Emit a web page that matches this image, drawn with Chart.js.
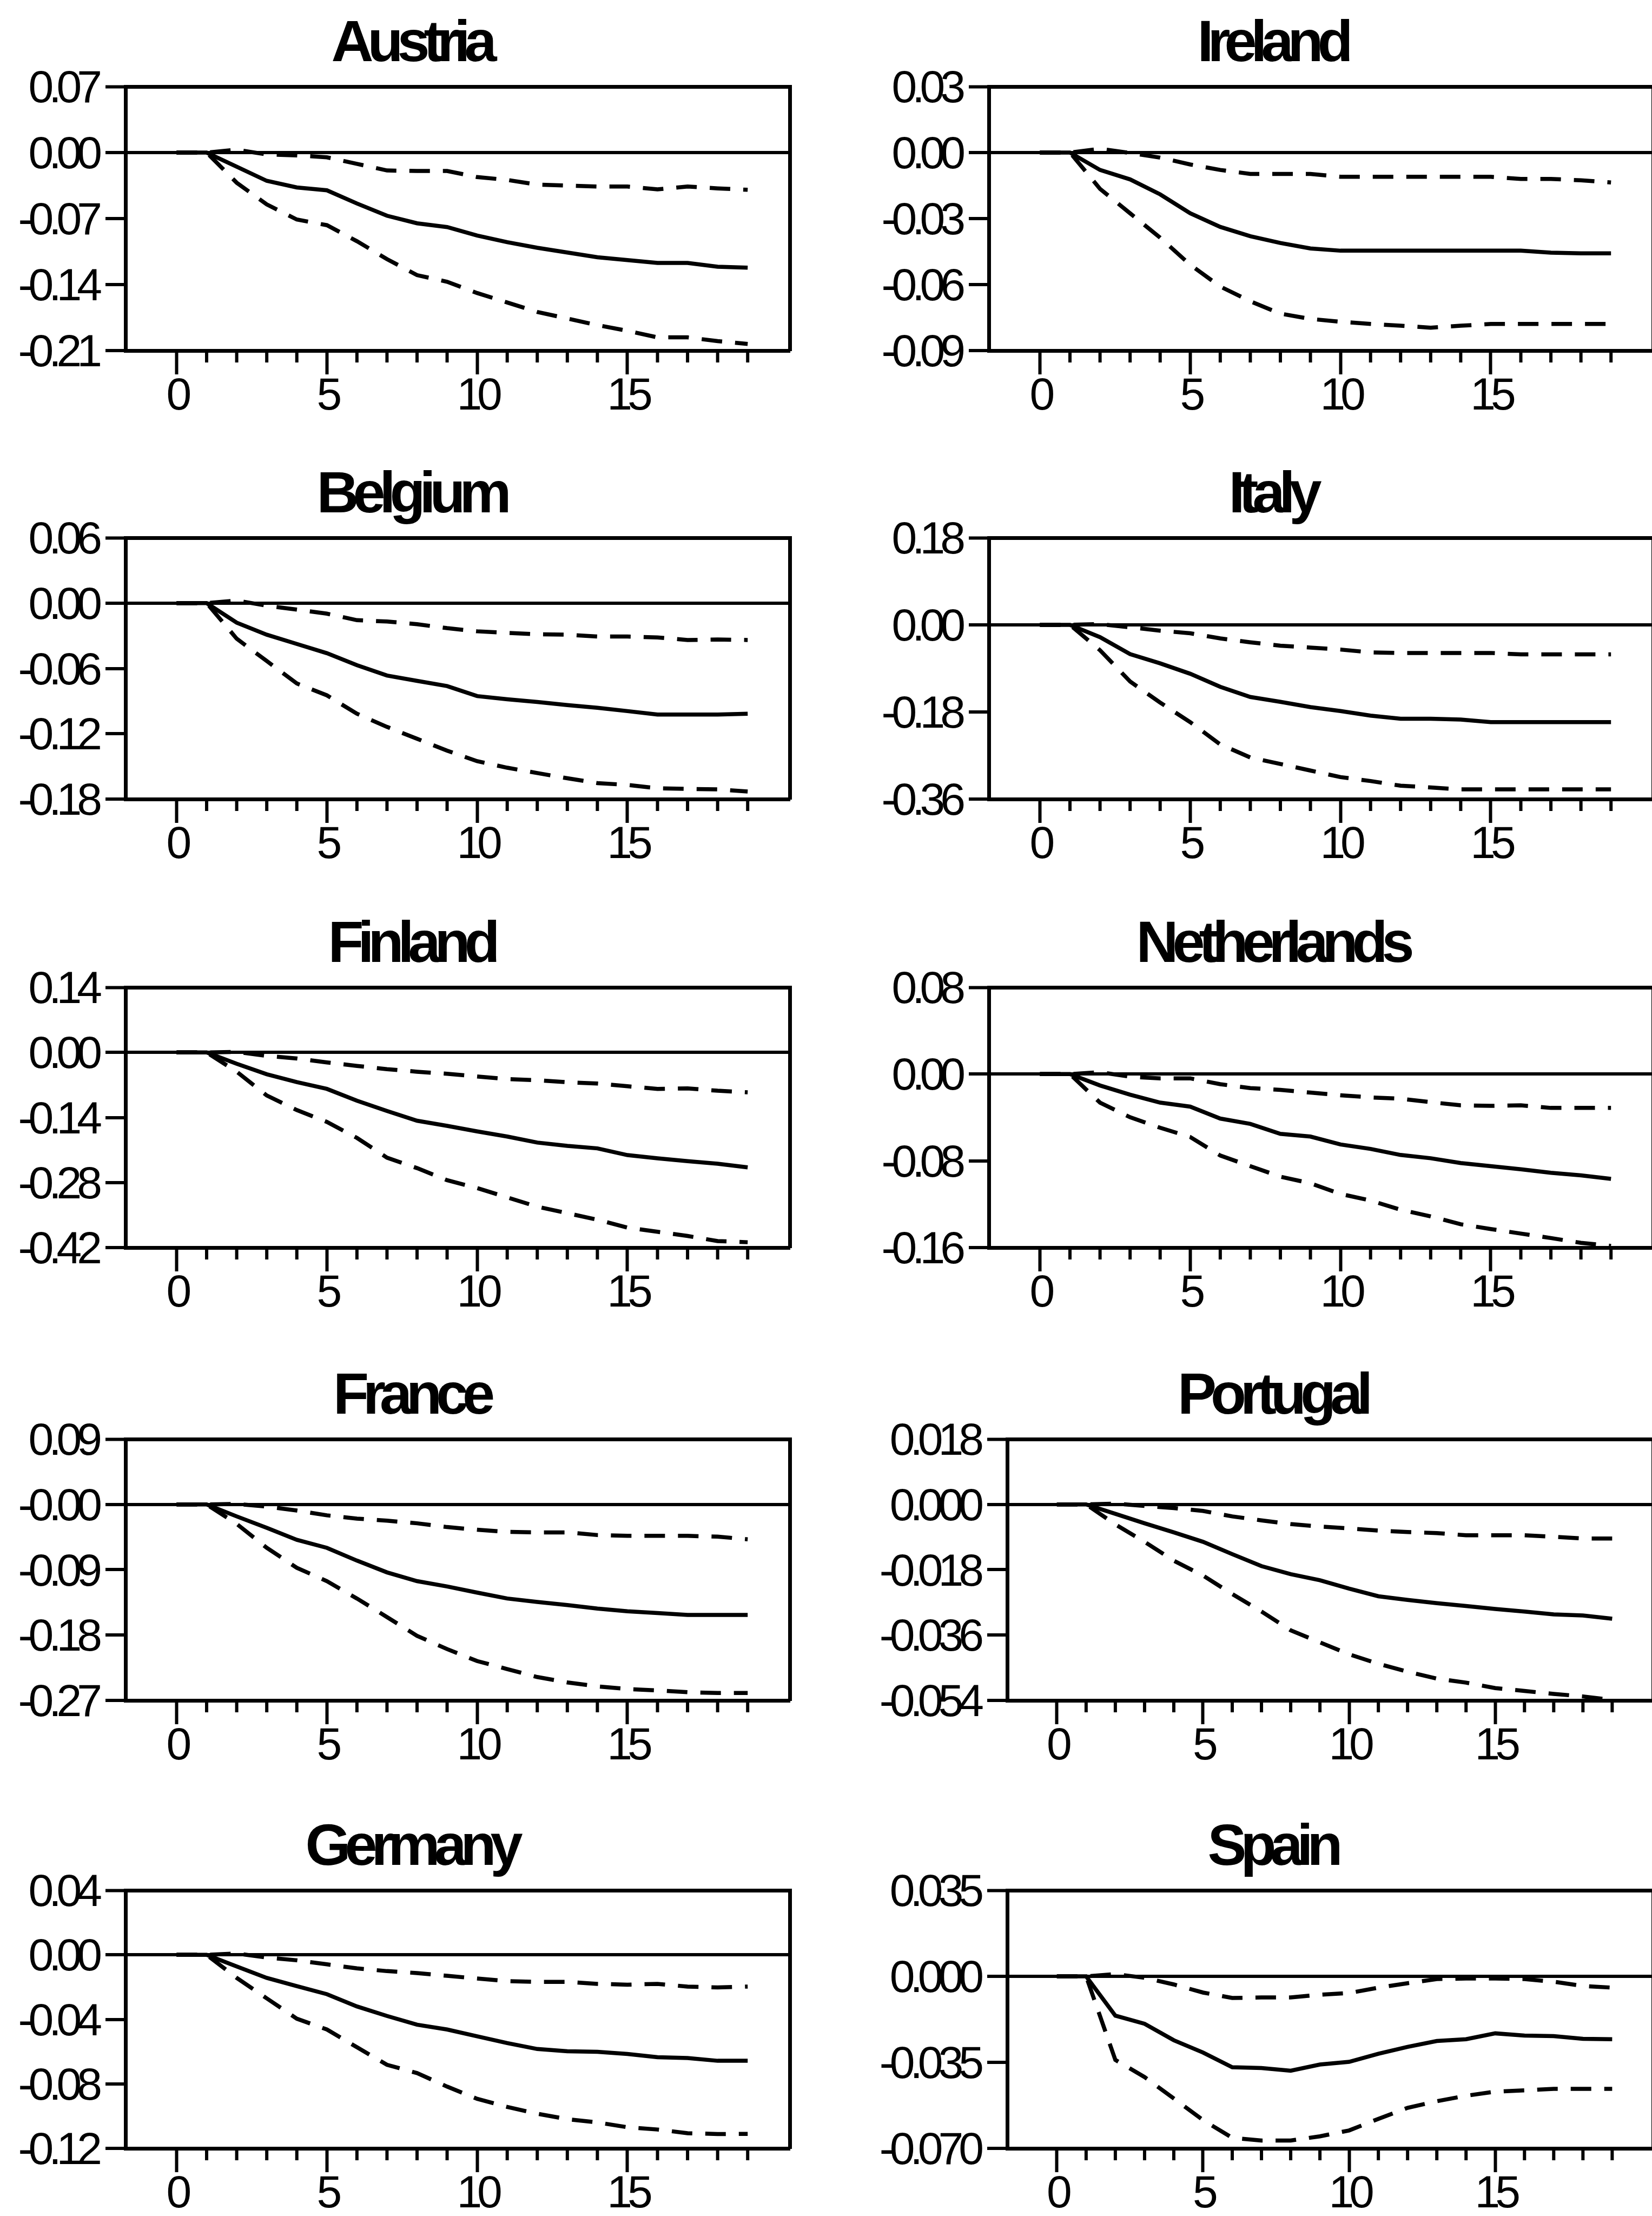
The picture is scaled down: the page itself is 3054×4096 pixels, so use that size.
<!DOCTYPE html>
<html>
<head>
<meta charset="utf-8">
<script src="https://cdn.jsdelivr.net/npm/chart.js@4.4.1/dist/chart.umd.min.js"></script>
<style>
html, body { margin:0; padding:0; background:#fff; overflow:hidden; width:3054px; height:4096px; }
canvas { position:absolute; }
</style>
</head>
<body>
<script>
// ---------------- DATA ----------------
const periods = [0,1,2,3,4,5,6,7,8,9,10,11,12,13,14,15,16,17,18,19];
const majorTicks = [0,5,10,15];
const xTickLabels = ['0','5','10','15'];

const austriaTicks = [0.07, 0, -0.07, -0.14, -0.21];
const austriaTickLabels = ['0.07','0.00','-0.07','-0.14','-0.21'];
const austriaIRF   = [0,0,-0.015,-0.030,-0.037,-0.040,-0.054,-0.067,-0.075,-0.079,-0.088,-0.095,-0.101,-0.106,-0.111,-0.114,-0.117,-0.117,-0.121,-0.122];
const austriaLower = [0,0,-0.032,-0.055,-0.071,-0.077,-0.094,-0.113,-0.130,-0.137,-0.149,-0.159,-0.169,-0.176,-0.183,-0.189,-0.196,-0.196,-0.200,-0.203];
const austriaUpper = [0,0,0.003,-0.002,-0.003,-0.005,-0.012,-0.019,-0.0195,-0.0195,-0.026,-0.029,-0.034,-0.035,-0.036,-0.036,-0.039,-0.036,-0.038,-0.0395];

const irelandTicks = [0.03, 0, -0.03, -0.06, -0.09];
const irelandTickLabels = ['0.03','0.00','-0.03','-0.06','-0.09'];
const irelandIRF   = [0,0,-0.0079,-0.0122,-0.019,-0.0276,-0.0338,-0.038,-0.0411,-0.0436,-0.0446,-0.0446,-0.0446,-0.0446,-0.0446,-0.0446,-0.0446,-0.0455,-0.0458,-0.0458];
const irelandLower = [0,0,-0.0165,-0.0276,-0.0387,-0.051,-0.0609,-0.0676,-0.0732,-0.0756,-0.0769,-0.0779,-0.0787,-0.0796,-0.0787,-0.0779,-0.0779,-0.0779,-0.0779,-0.0779];
const irelandUpper = [0,0,0.0017,-0.0002,-0.0023,-0.0054,-0.0079,-0.0097,-0.0097,-0.0097,-0.011,-0.011,-0.011,-0.011,-0.011,-0.011,-0.012,-0.012,-0.0126,-0.0136];

const belgiumTicks = [0.06, 0, -0.06, -0.12, -0.18];
const belgiumTickLabels = ['0.06','0.00','-0.06','-0.12','-0.18'];
const belgiumIRF   = [0,0,-0.018,-0.029,-0.0375,-0.046,-0.057,-0.0665,-0.0714,-0.0762,-0.0854,-0.0883,-0.0908,-0.0937,-0.0961,-0.0992,-0.1024,-0.1024,-0.1024,-0.1016];
const belgiumLower = [0,0,-0.0327,-0.0532,-0.0738,-0.0847,-0.1016,-0.1137,-0.1246,-0.1355,-0.1452,-0.1512,-0.1561,-0.1609,-0.1653,-0.167,-0.1701,-0.1706,-0.1711,-0.173];
const belgiumUpper = [0,0,0.0024,-0.0024,-0.006,-0.0097,-0.0157,-0.0169,-0.0194,-0.023,-0.0259,-0.0273,-0.0286,-0.029,-0.0307,-0.0307,-0.0315,-0.0339,-0.0334,-0.0339];

const italyTicks = [0.18, 0, -0.18, -0.36];
const italyTickLabels = ['0.18','0.00','-0.18','-0.36'];
const italyIRF   = [0,0,-0.0254,-0.0605,-0.0795,-0.101,-0.128,-0.149,-0.159,-0.170,-0.178,-0.1875,-0.194,-0.194,-0.1957,-0.201,-0.201,-0.201,-0.201,-0.201];
const italyLower = [0,0,-0.0524,-0.117,-0.1605,-0.201,-0.247,-0.274,-0.2875,-0.301,-0.3146,-0.3227,-0.3324,-0.336,-0.34,-0.34,-0.34,-0.34,-0.34,-0.34];
const italyUpper = [0,0,0.0016,-0.005,-0.012,-0.0173,-0.028,-0.036,-0.043,-0.047,-0.051,-0.0568,-0.058,-0.058,-0.058,-0.058,-0.061,-0.061,-0.061,-0.061];

const finlandTicks = [0.14, 0, -0.14, -0.28, -0.42];
const finlandTickLabels = ['0.14','0.00','-0.14','-0.28','-0.42'];
const finlandIRF   = [0,0,-0.0245,-0.047,-0.064,-0.0785,-0.104,-0.126,-0.147,-0.158,-0.170,-0.181,-0.194,-0.201,-0.2065,-0.221,-0.228,-0.234,-0.2395,-0.2475];
const finlandLower = [0,0,-0.0415,-0.0927,-0.124,-0.1496,-0.184,-0.2265,-0.249,-0.275,-0.292,-0.312,-0.332,-0.346,-0.360,-0.377,-0.386,-0.395,-0.406,-0.4085];
const finlandUpper = [0,0,0.001,-0.0074,-0.013,-0.0216,-0.029,-0.036,-0.0415,-0.046,-0.0518,-0.0575,-0.0597,-0.0643,-0.067,-0.0728,-0.0785,-0.0774,-0.0825,-0.086];

const netherlandsTicks = [0.08, 0, -0.08, -0.16];
const netherlandsTickLabels = ['0.08','0.00','-0.08','-0.16'];
const netherlandsIRF   = [0,0,-0.0105,-0.019,-0.0263,-0.030,-0.041,-0.0459,-0.0551,-0.0576,-0.0649,-0.069,-0.0746,-0.0776,-0.082,-0.0849,-0.0878,-0.091,-0.0934,-0.0966];
const netherlandsLower = [0,0,-0.0263,-0.0398,-0.0495,-0.058,-0.0751,-0.0849,-0.0946,-0.1007,-0.1105,-0.1166,-0.1251,-0.1312,-0.1385,-0.1429,-0.1471,-0.1512,-0.1556,-0.1585];
const netherlandsUpper = [0,0,0.0017,-0.0024,-0.0039,-0.0039,-0.0093,-0.0129,-0.0146,-0.0171,-0.0195,-0.0215,-0.0227,-0.0259,-0.0288,-0.0293,-0.0288,-0.0312,-0.0312,-0.0312];

const franceTicks = [0.09, 0, -0.09, -0.18, -0.27];
const franceTickLabels = ['0.09','-0.00','-0.09','-0.18','-0.27'];
const franceIRF   = [0,0,-0.0165,-0.0323,-0.0488,-0.0598,-0.0774,-0.0936,-0.1057,-0.113,-0.1215,-0.1296,-0.1343,-0.1387,-0.1435,-0.1472,-0.1497,-0.1523,-0.1523,-0.1523];
const franceLower = [0,0,-0.0268,-0.0598,-0.0873,-0.1057,-0.1296,-0.1552,-0.181,-0.1993,-0.2158,-0.2268,-0.2378,-0.2452,-0.2507,-0.2543,-0.2562,-0.2587,-0.2598,-0.2598];
const franceUpper = [0,0,0.0007,-0.003,-0.0084,-0.015,-0.0195,-0.0224,-0.026,-0.0312,-0.0349,-0.0378,-0.0385,-0.0385,-0.0422,-0.0433,-0.0433,-0.0433,-0.0444,-0.048];

const portugalTicks = [0.018, 0, -0.018, -0.036, -0.054];
const portugalTickLabels = ['0.018','0.000','-0.018','-0.036','-0.054'];
const portugalIRF   = [0,0,-0.0026,-0.0052,-0.0077,-0.0103,-0.0137,-0.017,-0.0192,-0.0209,-0.0232,-0.0253,-0.0263,-0.0272,-0.028,-0.0288,-0.0295,-0.0303,-0.0306,-0.0315];
const portugalLower = [0,0,-0.0055,-0.0103,-0.0155,-0.0196,-0.0247,-0.0295,-0.0347,-0.038,-0.0413,-0.0439,-0.0461,-0.048,-0.0491,-0.0506,-0.0514,-0.0522,-0.0529,-0.0539];
const portugalUpper = [0,0,0.0002,-0.0004,-0.001,-0.0018,-0.0033,-0.0044,-0.0054,-0.0061,-0.0066,-0.0072,-0.0076,-0.0079,-0.0085,-0.0085,-0.0085,-0.0089,-0.0094,-0.0094];

const germanyTicks = [0.04, 0, -0.04, -0.08, -0.12];
const germanyTickLabels = ['0.04','0.00','-0.04','-0.08','-0.12'];
const germanyIRF   = [0,0,-0.0072,-0.0143,-0.0194,-0.0244,-0.032,-0.0379,-0.0433,-0.0463,-0.0505,-0.0547,-0.0584,-0.0598,-0.0601,-0.0615,-0.0635,-0.064,-0.0657,-0.0657];
const germanyLower = [0,0,-0.0143,-0.027,-0.0396,-0.0463,-0.0573,-0.0682,-0.0733,-0.0817,-0.0893,-0.0943,-0.0985,-0.1019,-0.1039,-0.1069,-0.1083,-0.1106,-0.1111,-0.111];
const germanyUpper = [0,0,0.0008,-0.0017,-0.0034,-0.0059,-0.0084,-0.0101,-0.0113,-0.013,-0.0147,-0.0163,-0.0168,-0.0168,-0.018,-0.0185,-0.018,-0.0197,-0.0202,-0.0197];

const spainTicks = [0.035, 0, -0.035, -0.070];
const spainTickLabels = ['0.035','0.000','-0.035','-0.070'];
const spainIRF   = [0,0,-0.016,-0.0193,-0.026,-0.031,-0.037,-0.0373,-0.0384,-0.0359,-0.0348,-0.0315,-0.0287,-0.0263,-0.0256,-0.0232,-0.0241,-0.0243,-0.0254,-0.0256];
const spainLower = [0,0,-0.034,-0.041,-0.0497,-0.0585,-0.0657,-0.0668,-0.0668,-0.0651,-0.0627,-0.058,-0.0535,-0.0508,-0.0486,-0.0469,-0.0464,-0.0458,-0.0458,-0.0458];
const spainUpper = [0,0,0.0009,-0.0006,-0.0033,-0.0066,-0.0088,-0.0086,-0.0086,-0.0075,-0.0068,-0.0046,-0.0028,-0.0011,-0.0009,-0.0009,-0.0011,-0.0022,-0.0039,-0.0046];

// ---------------- LAYOUT ----------------
function hasFont(name){
  const c = document.createElement('canvas').getContext('2d');
  const s = 'Austria 0.07 Netherlands';
  c.font = '100px monospace'; const a = c.measureText(s).width;
  c.font = '100px "' + name + '", monospace'; const b = c.measureText(s).width;
  return Math.abs(a - b) > 0.5;
}
const narrowOK = hasFont('Liberation Sans Narrow');
const FAMILY = narrowOK ? '"Liberation Sans Narrow", "Liberation Sans", Arial, sans-serif'
                        : '"Liberation Sans", Arial, sans-serif';
const LETTER_SPACING = narrowOK ? '0px' : '-9px';
const TITLE_SPACING = narrowOK ? '-2px' : '-11px';

const rowTop    = [160, 994, 1825, 2660, 3494];
const rowBottom = [648, 1477, 2306, 3143, 3971];
const colCanvasLeft  = [0, 1600];
const colCanvasWidth = [1520, 1504];   // title centred in canvas: 760 / 2352
const colPlotRight   = [1460, 3056];
const TITLE_SIZE = 108;
const TITLE_BOX = 142;   // chart area top offset inside canvas
const X_AXIS_H = 120;
const LINE_W = 7.5;
const AXIS_W = 7;
const TICK_W = 6;

const panels = [
  {name:'Austria',     col:0, row:0, plotLeft:232,  ticks:austriaTicks,     labels:austriaTickLabels,     irf:austriaIRF,     lo:austriaLower,     hi:austriaUpper},
  {name:'Belgium',     col:0, row:1, plotLeft:232,  ticks:belgiumTicks,     labels:belgiumTickLabels,     irf:belgiumIRF,     lo:belgiumLower,     hi:belgiumUpper},
  {name:'Finland',     col:0, row:2, plotLeft:232,  ticks:finlandTicks,     labels:finlandTickLabels,     irf:finlandIRF,     lo:finlandLower,     hi:finlandUpper},
  {name:'France',      col:0, row:3, plotLeft:232,  ticks:franceTicks,      labels:franceTickLabels,      irf:franceIRF,      lo:franceLower,      hi:franceUpper},
  {name:'Germany',     col:0, row:4, plotLeft:232,  ticks:germanyTicks,     labels:germanyTickLabels,     irf:germanyIRF,     lo:germanyLower,     hi:germanyUpper},
  {name:'Ireland',     col:1, row:0, plotLeft:1828, ticks:irelandTicks,     labels:irelandTickLabels,     irf:irelandIRF,     lo:irelandLower,     hi:irelandUpper},
  {name:'Italy',       col:1, row:1, plotLeft:1828, ticks:italyTicks,       labels:italyTickLabels,       irf:italyIRF,       lo:italyLower,       hi:italyUpper},
  {name:'Netherlands', col:1, row:2, plotLeft:1828, ticks:netherlandsTicks, labels:netherlandsTickLabels, irf:netherlandsIRF, lo:netherlandsLower, hi:netherlandsUpper},
  {name:'Portugal',    col:1, row:3, plotLeft:1862, ticks:portugalTicks,    labels:portugalTickLabels,    irf:portugalIRF,    lo:portugalLower,    hi:portugalUpper},
  {name:'Spain',       col:1, row:4, plotLeft:1862, ticks:spainTicks,       labels:spainTickLabels,       irf:spainIRF,       lo:spainLower,       hi:spainUpper}
];

const minorTickPlugin = {
  id: 'eviewsMinorTicks',
  beforeDraw(chart) {
    chart.ctx.letterSpacing = LETTER_SPACING;
  },
  afterDraw(chart) {
    const {ctx, chartArea, scales} = chart;
    const x = scales.x;
    ctx.save();
    ctx.strokeStyle = '#000';
    ctx.lineWidth = TICK_W;
    periods.forEach(p => {
      if (majorTicks.indexOf(p) === -1) {
        const px = x.getPixelForValue(p);
        ctx.beginPath();
        ctx.moveTo(px, chartArea.bottom);
        ctx.lineTo(px, chartArea.bottom + 22);
        ctx.stroke();
      }
    });
    ctx.restore();
  }
};

panels.forEach(p => {
  const T = rowTop[p.row], B = rowBottom[p.row];
  const cl = colCanvasLeft[p.col];
  const cw = colCanvasWidth[p.col];
  const yW = p.plotLeft - cl;
  const rightW = cl + cw - colPlotRight[p.col];
  const ch = TITLE_BOX + (B - T) + X_AXIS_H;
  const canvas = document.createElement('canvas');
  canvas.width = cw; canvas.height = ch;
  canvas.style.left = cl + 'px';
  canvas.style.top = (T - TITLE_BOX) + 'px';
  canvas.style.width = cw + 'px';
  canvas.style.height = ch + 'px';
  document.body.appendChild(canvas);

  const yMax = p.ticks[0], yMin = p.ticks[p.ticks.length - 1];
  const tickFont = {family: FAMILY, size: 84, weight: 'normal', lineHeight: 1.0};

  const chart = new Chart(canvas, {
    type: 'line',
    data: {
      labels: periods,
      datasets: [
        {data: p.irf, borderColor:'#000', borderWidth:LINE_W, pointRadius:0, tension:0, fill:false},
        {data: p.lo,  borderColor:'#000', borderWidth:LINE_W, borderDash:[38,24], pointRadius:0, tension:0, fill:false},
        {data: p.hi,  borderColor:'#000', borderWidth:LINE_W, borderDash:[38,24], pointRadius:0, tension:0, fill:false}
      ]
    },
    options: {
      responsive: false,
      animation: false,
      devicePixelRatio: 1,
      layout: {padding: 0},
      plugins: {
        legend: {display: false},
        tooltip: {enabled: false},
        title: {
          display: true, text: p.name, color: '#000', fullSize: true, align: 'center',
          font: {family: FAMILY, size: TITLE_SIZE, weight: 'bold', lineHeight: 1.2},
          padding: {top: 0, bottom: TITLE_BOX - TITLE_SIZE * 1.2}
        }
      },
      scales: {
        x: {
          type: 'linear', min: -1.7, max: 20.4,
          afterBuildTicks: s => { s.ticks = periods.map(v => ({value: v})); },
          afterFit: s => { s.height = X_AXIS_H; },
          ticks: {
            autoSkip: false, maxRotation: 0, minRotation: 0, padding: 0, color: '#000', font: tickFont,
            callback: v => { const i = majorTicks.indexOf(v); return i === -1 ? '' : xTickLabels[i]; }
          },
          grid: {
            drawOnChartArea: false, drawTicks: true, tickLength: 44, tickWidth: TICK_W,
            tickColor: c => (majorTicks.indexOf(c.tick && c.tick.value) !== -1 ? '#000' : 'rgba(0,0,0,0)')
          },
          border: {display: true, color: '#000', width: AXIS_W}
        },
        y: {
          type: 'linear', position: 'left', min: yMin, max: yMax,
          afterBuildTicks: s => { s.ticks = p.ticks.map(v => ({value: v})); },
          afterFit: s => { s.width = yW; },
          ticks: {
            autoSkip: false, padding: 15, labelOffset: 6, color: '#000', font: tickFont,
            callback: (v, i) => p.labels[i]
          },
          grid: {
            drawOnChartArea: true, drawTicks: true, tickLength: 37, tickWidth: TICK_W, tickColor: '#000',
            color: c => (c.tick && (c.tick.value === 0 || c.tick.value === yMax)) ? '#000' : 'rgba(0,0,0,0)',
            lineWidth: c => (c.tick && c.tick.value === yMax) ? AXIS_W : 6
          },
          border: {display: true, color: '#000', width: AXIS_W}
        },
        yFrame: {
          type: 'linear', position: 'right', min: yMin, max: yMax,
          afterFit: s => { s.width = rightW; },
          ticks: {display: false},
          grid: {display: true, drawOnChartArea: false, drawTicks: false},
          border: {display: true, color: '#000', width: AXIS_W}
        }
      }
    },
    plugins: [minorTickPlugin]
  });

  // tighter letter spacing for the panel title only (as in the original)
  const tb = chart.titleBlock;
  if (tb) {
    const origDraw = tb.draw.bind(tb);
    tb.draw = function(area) {
      const ctx = chart.ctx;
      ctx.save();
      ctx.letterSpacing = TITLE_SPACING;
      origDraw(area);
      ctx.restore();
    };
    chart.draw();
  }
});
</script>
</body>
</html>
